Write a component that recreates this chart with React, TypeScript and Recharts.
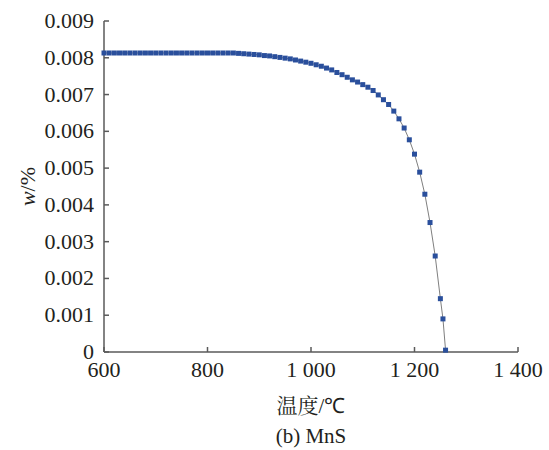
import React from 'react';
import { LineChart, Line, XAxis, YAxis } from 'recharts';

// Temperature (°C) for each calculated point
const temperatures: number[] = [
  600, 610, 620, 630, 640, 650, 660, 670, 680, 690,
  700, 710, 720, 730, 740, 750, 760, 770, 780, 790,
  800, 810, 820, 830, 840, 850, 860, 870, 880, 890,
  900, 910, 920, 930, 940, 950, 960, 970, 980, 990,
  1000, 1010, 1020, 1030, 1040, 1050, 1060, 1070, 1080, 1090,
  1100, 1110, 1120, 1130, 1140, 1150, 1160, 1170, 1180, 1190,
  1200, 1210, 1220, 1230, 1240, 1250, 1255, 1260,
];

// Mass fraction of MnS, w/%
const mnsFraction: number[] = [
  0.00813, 0.00813, 0.00813, 0.00813, 0.00813, 0.00813, 0.00813, 0.00813, 0.00813, 0.00813,
  0.00813, 0.00813, 0.00813, 0.00813, 0.00813, 0.00813, 0.00813, 0.00813, 0.00813, 0.00813,
  0.00813, 0.00813, 0.00813, 0.00813, 0.00813, 0.00813, 0.00812, 0.00811, 0.00810, 0.00809,
  0.00808, 0.00806, 0.00805, 0.00803, 0.00801, 0.00799, 0.00797, 0.00794, 0.00791, 0.00788,
  0.00785, 0.00781, 0.00777, 0.00772, 0.00767, 0.00760, 0.00754, 0.00747, 0.00740, 0.00734,
  0.00727, 0.00720, 0.00711, 0.00699, 0.00686, 0.00673, 0.00655, 0.00634, 0.00609, 0.00577,
  0.00538, 0.00489, 0.00429, 0.00352, 0.00261, 0.00145, 0.00090, 0.00005,
];

const xTicks: number[] = [600, 800, 1000, 1200, 1400];
const yTicks: number[] = [0, 0.001, 0.002, 0.003, 0.004, 0.005, 0.006, 0.007, 0.008, 0.009];

const xAxisTitleCjk = '温度';
const xAxisTitleUnit = '/℃';
const caption = '(b) MnS';

const data = temperatures.map((t, i) => ({ t, w: mnsFraction[i] }));

const SERIF = "'Liberation Serif'";
const CJK_SERIF = "'Noto Serif CJK SC'";
const AXIS_COLOR = '#5a5a5a';
const TEXT_COLOR = '#231f20';
const FONT_SIZE = 22;

const formatX = (v: number) =>
  v >= 1000 ? `${Math.floor(v / 1000)} ${String(v % 1000).padStart(3, '0')}` : String(v);
const formatY = (v: number) => (v === 0 ? '0' : v.toFixed(3));

const SquareDot = (props: any) => {
  const { cx, cy } = props;
  if (cx == null || cy == null) return null;
  return <rect x={cx - 2.5} y={cy - 2.5} width={5} height={5} fill="#2a4f9c" />;
};

const TickText = (props: any) => {
  const { x, y, payload, textAnchor, formatter, dy } = props;
  return (
    <text
      x={x}
      y={y}
      dy={dy}
      textAnchor={textAnchor}
      fill={TEXT_COLOR}
      fontSize={FONT_SIZE}
      style={{ fontFamily: SERIF }}
    >
      {formatter(payload.value)}
    </text>
  );
};

const YTitle = (props: any) => {
  const { viewBox } = props;
  const cy = viewBox.y + viewBox.height / 2;
  const cx = 27;
  return (
    <text
      x={cx}
      y={cy}
      transform={`rotate(-90, ${cx}, ${cy})`}
      textAnchor="middle"
      dominantBaseline="central"
      style={{ fontFamily: SERIF }}
      fontSize={FONT_SIZE}
      fill={TEXT_COLOR}
    >
      <tspan fontStyle="italic">w</tspan>
      <tspan>/%</tspan>
    </text>
  );
};

// Axis title and panel caption, centred under the plot area (x = 311)
const captionBox: React.CSSProperties = {
  position: 'absolute',
  left: 161,
  width: 300,
  textAlign: 'center',
  fontSize: 21,
  lineHeight: '24px',
  color: TEXT_COLOR,
  fontFamily: SERIF,
  whiteSpace: 'nowrap',
};

export default function App() {
  return (
    <div style={{ position: 'absolute', left: 0, top: 0, width: 549, height: 450, background: '#fff' }}>
      <div style={{ ...captionBox, top: 392 }}>
        <span style={{ fontFamily: CJK_SERIF }}>{xAxisTitleCjk}</span>
        <span style={{ fontFamily: SERIF }}>{xAxisTitleUnit}</span>
      </div>
      <div style={{ ...captionBox, top: 424 }}>{caption}</div>
      <div style={{ position: 'absolute', left: 0, top: 0 }}>
        <LineChart
          width={549}
          height={450}
          data={data}
          margin={{ top: 21, right: 31, bottom: 0, left: 0 }}
        >
          <XAxis
            dataKey="t"
            type="number"
            domain={[600, 1400]}
            ticks={xTicks}
            height={98}
            stroke={AXIS_COLOR}
            strokeWidth={1.5}
            tickSize={-5}
            tickMargin={13}
            tick={<TickText formatter={formatX} dy={17} />}
          />
          <YAxis
            type="number"
            domain={[0, 0.009]}
            ticks={yTicks}
            width={104}
            stroke={AXIS_COLOR}
            strokeWidth={1.5}
            tickSize={-5}
            tickMargin={15}
            tick={<TickText formatter={formatY} dy={7} />}
            label={<YTitle />}
          />
          <Line
            dataKey="w"
            type="linear"
            stroke="#7f7f7f"
            strokeWidth={1}
            dot={<SquareDot />}
            activeDot={false}
            isAnimationActive={false}
          />
        </LineChart>
      </div>
    </div>
  );
}
